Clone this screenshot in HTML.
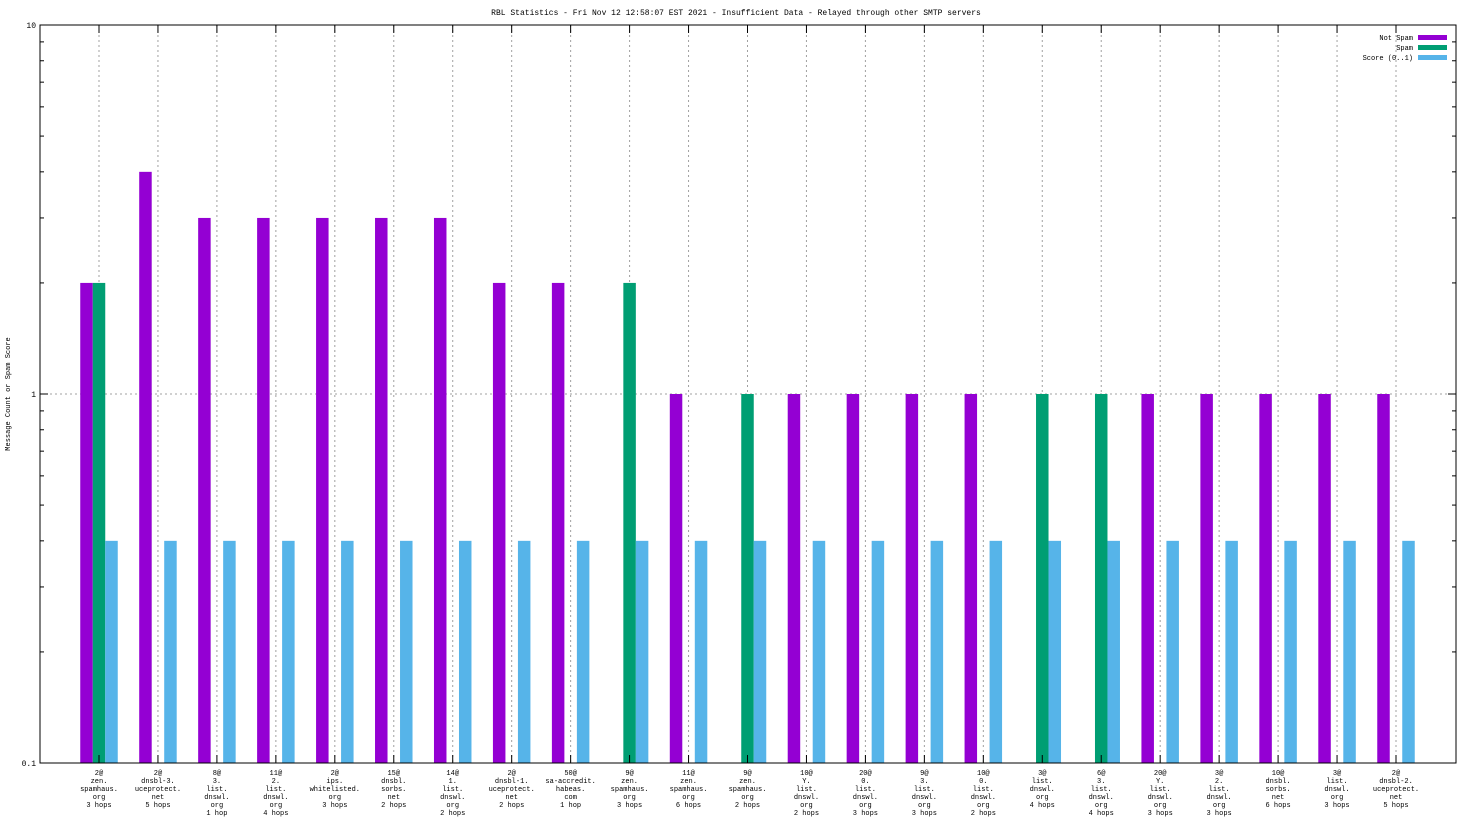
<!DOCTYPE html>
<html><head><meta charset="utf-8"><style>
html,body{margin:0;padding:0;background:#fff;}
svg{display:block;font-family:"Liberation Mono",monospace;}
</style></head><body>
<svg id="chart" width="1472" height="828" xmlns="http://www.w3.org/2000/svg"></svg>
<script>
const categories = [
"2@|zen.|spamhaus.|org|3 hops","2@|dnsbl-3.|uceprotect.|net|5 hops","8@|3.|list.|dnswl.|org|1 hop",
"11@|2.|list.|dnswl.|org|4 hops","2@|ips.|whitelisted.|org|3 hops","15@|dnsbl.|sorbs.|net|2 hops",
"14@|1.|list.|dnswl.|org|2 hops","2@|dnsbl-1.|uceprotect.|net|2 hops","50@|sa-accredit.|habeas.|com|1 hop",
"9@|zen.|spamhaus.|org|3 hops","11@|zen.|spamhaus.|org|6 hops","9@|zen.|spamhaus.|org|2 hops",
"10@|Y.|list.|dnswl.|org|2 hops","20@|0.|list.|dnswl.|org|3 hops","9@|3.|list.|dnswl.|org|3 hops",
"10@|0.|list.|dnswl.|org|2 hops","3@|list.|dnswl.|org|4 hops","6@|3.|list.|dnswl.|org|4 hops",
"20@|Y.|list.|dnswl.|org|3 hops","3@|2.|list.|dnswl.|org|3 hops","10@|dnsbl.|sorbs.|net|6 hops",
"3@|list.|dnswl.|org|3 hops","2@|dnsbl-2.|uceprotect.|net|5 hops"];
const notSpam = [2,4,3,3,3,3,3,2,2,0,1,0,1,1,1,1,0,0,1,1,1,1,1];
const spam    = [2,0,0,0,0,0,0,0,0,2,0,1,0,0,0,0,1,1,0,0,0,0,0];
const score   = [0.4,0.4,0.4,0.4,0.4,0.4,0.4,0.4,0.4,0.4,0.4,0.4,0.4,0.4,0.4,0.4,0.4,0.4,0.4,0.4,0.4,0.4,0.4];
const yTicks = [0.1,1,10];
const yTickLabels = ["0.1","1","10"];

const svg=document.getElementById('chart');
const NS="http://www.w3.org/2000/svg";
const L=40,R=1456,T=25,B=763;
const yMin=0.1,yMax=10;
function y(v){return B-(Math.log10(v)-Math.log10(yMin))/(Math.log10(yMax)-Math.log10(yMin))*(B-T);}
const x0=99,step=(1396-99)/22;
function x(i){return x0+i*step;}
function mk(t,a,txt){const e=document.createElementNS(NS,t);for(const k in a)e.setAttribute(k,a[k]);if(txt!=null)e.textContent=txt;svg.appendChild(e);return e;}

let e=mk('text',{x:736,y:15,'font-size':8,'text-anchor':'middle'},'RBL Statistics - Fri Nov 12 12:58:07 EST 2021 - Insufficient Data - Relayed through other SMTP servers');

e=mk('text',{x:10,y:394,'font-size':7,'text-anchor':'middle',transform:'rotate(-90 10 394)'},'Message Count or Spam Score');


// grid
for(let i=0;i<categories.length;i++){
  e=mk('line',{x1:x(i),x2:x(i),y1:T,y2:B,stroke:'#a0a0a0','stroke-dasharray':'2,3','stroke-width':1});
  
}
e=mk('line',{x1:L,x2:R,y1:y(1),y2:y(1),stroke:'#a0a0a0','stroke-dasharray':'2,3'});


// bars
const bw=12.5;
const series=[[notSpam,'#9400d3',-1,'bar-not-spam'],[spam,'#009e73',0,'bar-spam'],[score,'#56b4e9',1,'bar-score']];
series.forEach(s=>{
  s[0].forEach((v,i)=>{
    if(v<=0)return;
    const cx=x(i)+s[2]*bw;
    const b=mk('rect',{x:cx-bw/2,y:y(v),width:bw,height:B-y(v),fill:s[1]});
    
    
  });
});

// axes frame
e=mk('rect',{x:L,y:T,width:R-L,height:B-T,fill:'none',stroke:'#000','stroke-width':1});

// y ticks
yTicks.forEach((v,k)=>{
  mk('line',{x1:L,x2:L+8,y1:y(v),y2:y(v),stroke:'#000'});
  mk('line',{x1:R-8,x2:R,y1:y(v),y2:y(v),stroke:'#000'});
  const t=mk('text',{x:L-4,y:y(v)+3,'font-size':8,'text-anchor':'end'},yTickLabels[k]);
  
  if(k<yTicks.length-1){for(let m=2;m<=9;m++){const mv=v*m;
    mk('line',{x1:L,x2:L+4,y1:y(mv),y2:y(mv),stroke:'#000'});
    mk('line',{x1:R-4,x2:R,y1:y(mv),y2:y(mv),stroke:'#000'});}}
});
// x ticks & labels
categories.forEach((c,i)=>{
  mk('line',{x1:x(i),x2:x(i),y1:B,y2:B-8,stroke:'#000'});
  mk('line',{x1:x(i),x2:x(i),y1:T,y2:T+8,stroke:'#000'});
  const t=mk('text',{x:x(i),y:775,'font-size':7,'text-anchor':'middle'});
  
  c.split('|').forEach((ln,j)=>{const ts=document.createElementNS(NS,'tspan');ts.setAttribute('x',x(i));ts.setAttribute('y',775+j*8);ts.textContent=ln;t.appendChild(ts);});
});
// legend
const leg=[['Not Spam','#9400d3'],['Spam','#009e73'],['Score (0..1)','#56b4e9']];
leg.forEach((l,k)=>{
  const ly=37+k*10;
  const t=mk('text',{x:1413,y:ly+3,'font-size':7,'text-anchor':'end'},l[0]);
  
  const r=mk('rect',{x:1418,y:ly-2,width:29,height:5,fill:l[1]});
  
});
</script>
</body></html>
